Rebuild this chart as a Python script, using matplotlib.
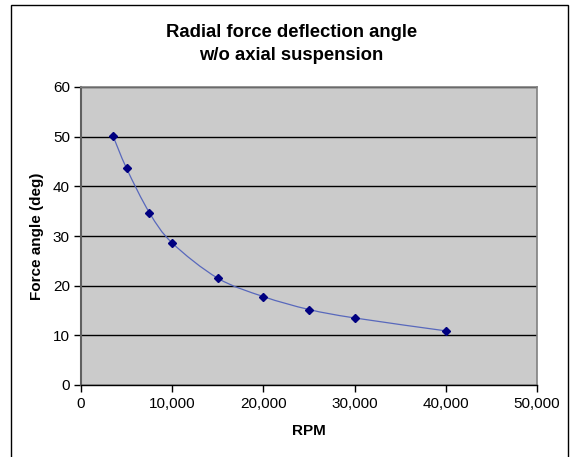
import matplotlib
matplotlib.use("Agg")
import matplotlib.pyplot as plt
from matplotlib.path import Path
from matplotlib.patches import PathPatch, Rectangle
from matplotlib.ticker import StrMethodFormatter, MultipleLocator
import numpy as np

plt.rcParams['font.family'] = ['Liberation Sans', 'DejaVu Sans']

# Measured deflection angle versus shaft speed
rpm = [3500, 5000, 7500, 10000, 15000, 20000, 25000, 30000, 40000]
force_angle = [50.2, 43.6, 34.7, 28.6, 21.5, 17.8, 15.2, 13.5, 10.9]

title_text = "Radial force deflection angle\nw/o axial suspension"
x_label = "RPM"
y_label = "Force angle (deg)"


def smooth_path(xs, ys):
    """Cubic Bezier path through the points (Catmull-Rom style tangents)."""
    pts = np.column_stack([xs, ys]).astype(float)
    n = len(pts)
    verts = [pts[0]]
    codes = [Path.MOVETO]
    for i in range(n - 1):
        p0 = pts[i - 1] if i > 0 else pts[i]
        p1 = pts[i]
        p2 = pts[i + 1]
        p3 = pts[i + 2] if i + 2 < n else pts[i + 1]
        c1 = p1 + (p2 - p0) / 6.0
        c2 = p2 - (p3 - p1) / 6.0
        verts += [c1, c2, p2]
        codes += [Path.CURVE4] * 3
    return Path(verts, codes)


fig = plt.figure(figsize=(5.72, 4.57), dpi=100)
fig.patch.set_facecolor("white")

# Outer chart border
fig.patches.append(Rectangle((11 / 572, -0.01), (568 - 11) / 572, 1 - 5 / 457 + 0.01,
                             transform=fig.transFigure, fill=False,
                             edgecolor="black", linewidth=1.0, zorder=0))

ax = fig.add_axes([81 / 572, 1 - 385 / 457, (537 - 81) / 572, (385 - 87) / 457])
ax.set_facecolor("#CBCBCB")

ax.set_xlim(0, 50000)
ax.set_ylim(0, 60)
ax.xaxis.set_major_locator(MultipleLocator(10000))
ax.yaxis.set_major_locator(MultipleLocator(10))
ax.xaxis.set_major_formatter(StrMethodFormatter("{x:,.0f}"))

ax.grid(axis="y", color="black", linewidth=1.0)
ax.set_axisbelow(True)

for side in ("top", "right"):
    ax.spines[side].set_color("#808080")
    ax.spines[side].set_linewidth(1.2)
ax.spines["left"].set_color("#606060")
ax.spines["left"].set_linewidth(1.5)
ax.spines["bottom"].set_color("black")
ax.spines["bottom"].set_linewidth(1.0)

ax.tick_params(axis="both", direction="out", length=5, width=1, color="black",
               labelsize=11, pad=4)
ax.tick_params(axis="y", colors="black", pad=3)

patch = PathPatch(smooth_path(rpm, force_angle), facecolor="none",
                  edgecolor="#5868BC", linewidth=0.9, zorder=3)
ax.add_patch(patch)
ax.plot(rpm, force_angle, linestyle="none", marker="D", markersize=4.2,
        color="#000080", zorder=4)

ax.set_xlabel(x_label, fontsize=11, fontweight="bold")
ax.set_ylabel(y_label, fontsize=11, fontweight="bold")
ax.xaxis.set_label_coords(0.5, (385 - 424) / 298)
ax.yaxis.set_label_coords((44 - 81) / 456, 0.5)

fig.text(291.5 / 572, 1 - 44 / 457, title_text, ha="center", va="center",
         fontsize=13.3, fontweight="bold", linespacing=1.4)

fig.savefig("out.png", dpi=100)
